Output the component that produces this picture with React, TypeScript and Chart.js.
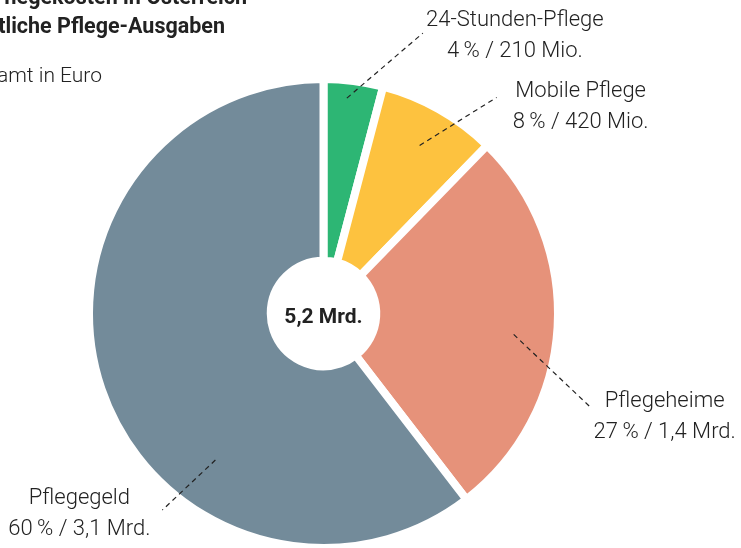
import React, { useEffect, useRef } from "react";
import { Chart, registerables } from "chart.js";

Chart.register(...registerables);

const categories = ["24-Stunden-Pflege", "Mobile Pflege", "Pflegeheime", "Pflegegeld"];
const valuesMio = [210, 420, 1400, 3100];
const shareLabels = ["4\u2009% / 210 Mio.", "8\u2009% / 420 Mio.", "27\u2009% / 1,4 Mrd.", "60\u2009% / 3,1 Mrd."];
const sliceColors = ["#2db674", "#fdc23f", "#e6927a", "#738b9a"];
const centerLabel = "5,2 Mrd.";
const titleLines = ["Pflegekosten in Österreich", "Öffentliche Pflege-Ausgaben"];
const subtitle = "Gesamt in Euro";

// leader-line placement: t = fraction along arc, r = fraction of visible outer radius,
// (dx,dy) = leader vector, (tx,ty) = text anchor offset from leader end
const leaders = [
  { t: 0.42, r: 0.94, dx: 76, dy: -65, tx: 92, ty: -7 },
  { t: 0.51, r: 0.84, dx: 77, dy: -48, tx: 84, ty: 0 },
  { t: 0.53, r: 0.83, dx: 77, dy: 73, tx: 74, ty: 0 },
  { t: 0.34, r: 0.79, dx: -53, dy: 50, tx: -83, ty: -6 },
];

const FONT = "Roboto";
const TEXT = "#222";
const GAP = 8;

const annotationPlugin = {
  id: "annotations",
  afterDraw(chart: any) {
    const ctx = chart.ctx as CanvasRenderingContext2D;
    const meta = chart.getDatasetMeta(0);
    ctx.save();
    meta.data.forEach((arc: any, i: number) => {
      const p = arc.getProps(["x", "y", "startAngle", "endAngle", "outerRadius"], true);
      const L = leaders[i];
      const R = p.outerRadius - GAP / 2;
      const a = p.startAngle + (p.endAngle - p.startAngle) * L.t;
      const sx = p.x + Math.cos(a) * R * L.r;
      const sy = p.y + Math.sin(a) * R * L.r;
      const ex = sx + L.dx;
      const ey = sy + L.dy;
      ctx.beginPath();
      ctx.setLineDash([5, 4]);
      ctx.lineWidth = 1.2;
      ctx.strokeStyle = "#222";
      ctx.moveTo(sx, sy);
      ctx.lineTo(ex, ey);
      ctx.stroke();
      ctx.setLineDash([]);
      ctx.fillStyle = TEXT;
      ctx.font = `300 22px ${FONT}`;
      ctx.textAlign = "center";
      ctx.textBaseline = "alphabetic";
      const cx = ex + L.tx;
      const cy = ey + L.ty;
      ctx.fillText(categories[i], cx, cy);
      ctx.fillText(shareLabels[i], cx, cy + 31);
    });
    // center label
    const c = meta.data[0];
    ctx.font = `bold 21px ${FONT}`;
    ctx.fillStyle = "#222";
    ctx.textAlign = "center";
    ctx.textBaseline = "middle";
    ctx.fillText(centerLabel, c.x, c.y + 4);
    // title (cut off at the left edge)
    ctx.textAlign = "right";
    ctx.textBaseline = "alphabetic";
    ctx.font = `bold 21.5px ${FONT}`;
    ctx.fillText(titleLines[0], 247, 4);
    ctx.fillText(titleLines[1], 225, 33);
    ctx.font = `300 21px ${FONT}`;
    ctx.fillStyle = TEXT;
    ctx.fillText(subtitle, 102, 82);
    ctx.restore();
  },
};

export default function App() {
  const ref = useRef<HTMLCanvasElement>(null);
  useEffect(() => {
    if (!ref.current) return;
    const chart = new Chart(ref.current, {
      type: "doughnut",
      data: {
        labels: categories,
        datasets: [
          {
            data: valuesMio,
            backgroundColor: sliceColors,
            borderColor: "#ffffff",
            borderWidth: GAP,
            borderAlign: "center",
          } as any,
        ],
      },
      options: {
        responsive: false,
        animation: false,
        cutout: "22.5%",
        layout: { padding: { left: 85, right: 179, top: 75, bottom: 8 } },
        plugins: { legend: { display: false }, tooltip: { enabled: false } },
      },
      plugins: [annotationPlugin],
    });
    return () => chart.destroy();
  }, []);
  return (
    <div style={{ position: "absolute", left: 0, top: 0, width: 741, height: 548, overflow: "hidden", background: "#fff" }}>
      <canvas ref={ref} width={741} height={560} style={{ display: "block" }} />
    </div>
  );
}
